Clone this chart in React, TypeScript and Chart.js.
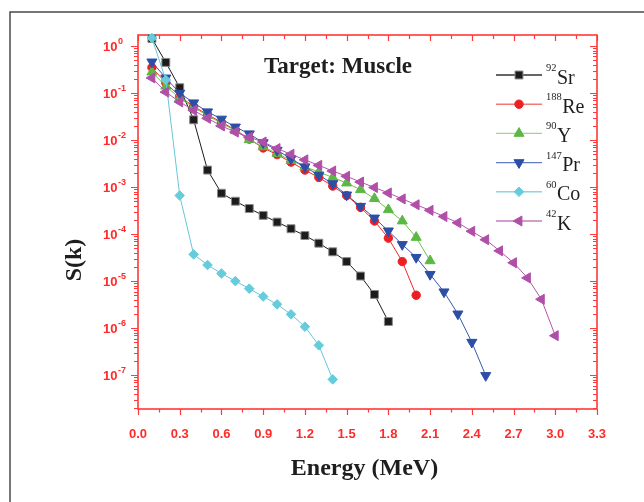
import React, { useEffect, useRef } from 'react';
import { Chart, registerables } from 'chart.js';

Chart.register(...registerables);

// Energy grid (MeV)
const energy = [0.1, 0.2, 0.3, 0.4, 0.5, 0.6, 0.7, 0.8, 0.9, 1.0, 1.1, 1.2, 1.3, 1.4, 1.5, 1.6, 1.7, 1.8, 1.9, 2.0, 2.1, 2.2, 2.3, 2.4, 2.5, 2.6, 2.7, 2.8, 2.9, 3.0];

// S(k) values
const sr92 = [1.45, 0.45, 0.13, 0.027, 2.3e-3, 7.4e-4, 5.0e-4, 3.5e-4, 2.5e-4, 1.8e-4, 1.3e-4, 9.3e-5, 6.4e-5, 4.2e-5, 2.6e-5, 1.28e-5, 5.2e-6, 1.38e-6];
const re188 = [0.35, 0.165, 0.085, 0.052, 0.035, 0.024, 0.0165, 0.0105, 0.0068, 0.0049, 0.0034, 0.0023, 0.0016, 1.05e-3, 6.6e-4, 3.7e-4, 1.9e-4, 8.2e-5, 2.6e-5, 5.0e-6];
const y90 = [0.28, 0.14, 0.078, 0.05, 0.033, 0.023, 0.0158, 0.0102, 0.0072, 0.0052, 0.0037, 0.0027, 0.0021, 1.6e-3, 1.22e-3, 8.8e-4, 5.7e-4, 3.3e-4, 1.9e-4, 8.5e-5, 2.7e-5];
const pr147 = [0.46, 0.21, 0.10, 0.062, 0.040, 0.028, 0.019, 0.0136, 0.0088, 0.0061, 0.0040, 0.0027, 0.0018, 1.18e-3, 6.8e-4, 3.9e-4, 2.2e-4, 1.17e-4, 6.0e-5, 3.2e-5, 1.39e-5, 5.9e-6, 2.0e-6, 5.0e-7, 9.8e-8];
const co60 = [1.48, 0.19, 6.6e-4, 3.7e-5, 2.2e-5, 1.45e-5, 1.0e-5, 6.9e-6, 4.7e-6, 3.2e-6, 1.96e-6, 1.07e-6, 4.3e-7, 8.1e-8];
const k42 = [0.21, 0.105, 0.065, 0.043, 0.029, 0.020, 0.0148, 0.0115, 0.0091, 0.0066, 0.0050, 0.0038, 0.0029, 2.2e-3, 1.7e-3, 1.28e-3, 9.8e-4, 7.5e-4, 5.6e-4, 4.2e-4, 3.2e-4, 2.36e-4, 1.74e-4, 1.15e-4, 7.6e-5, 4.4e-5, 2.46e-5, 1.17e-5, 4.1e-6, 6.9e-7];

const massNumbers = ['92', '188', '90', '147', '60', '42'];
const elements = ['Sr', 'Re', 'Y', 'Pr', 'Co', 'K'];

// Axis tick labels
const xTickValues = [0, 0.3, 0.6, 0.9, 1.2, 1.5, 1.8, 2.1, 2.4, 2.7, 3.0, 3.3];
const xTickLabels = ['0.0', '0.3', '0.6', '0.9', '1.2', '1.5', '1.8', '2.1', '2.4', '2.7', '3.0', '3.3'];
const yTickExponents = [0, -1, -2, -3, -4, -5, -6, -7];

const titleText = 'Target: Muscle';
const xTitle = 'Energy (MeV)';
const yTitle = 'S(k)';

const AXIS_RED = '#ff3838';
const LABEL_RED = '#ff2a2a';

type Style = {
  values: number[];
  fill: string;
  edge: string;
  line: string;
  legendLine: string;
  shape: 'rect' | 'circle' | 'triangle' | 'rectRot';
  rot: number;
  r: number;
};

const styles: Style[] = [
  { values: sr92, fill: '#1c1c1c', edge: '#8a8a8a', line: '#1c1c1c', legendLine: '#333333', shape: 'rect', rot: 0, r: 5.6 },
  { values: re188, fill: '#ee1f24', edge: '#ee1f24', line: '#ee2a2a', legendLine: '#f07a7a', shape: 'circle', rot: 0, r: 4.2 },
  { values: y90, fill: '#5cb845', edge: '#5cb845', line: '#6fc050', legendLine: '#9ed68a', shape: 'triangle', rot: 0, r: 5.8 },
  { values: pr147, fill: '#2d4ea6', edge: '#2d4ea6', line: '#3558b0', legendLine: '#5f7cc4', shape: 'triangle', rot: 180, r: 5.8 },
  { values: co60, fill: '#66ccdc', edge: '#66ccdc', line: '#66c6da', legendLine: '#8ad6e4', shape: 'rectRot', rot: 0, r: 4.8 },
  { values: k42, fill: '#b04fa8', edge: '#b04fa8', line: '#b455aa', legendLine: '#c57dbe', shape: 'triangle', rot: 270, r: 5.8 },
];

function drawMarker(ctx: CanvasRenderingContext2D, s: Style, x: number, y: number) {
  const r = s.r;
  const rad = (s.rot * Math.PI) / 180;
  ctx.beginPath();
  if (s.shape === 'rect') {
    const h = Math.SQRT1_2 * r;
    ctx.rect(x - h, y - h, 2 * h, 2 * h);
  } else if (s.shape === 'circle') {
    ctx.arc(x, y, r, 0, Math.PI * 2);
  } else if (s.shape === 'triangle') {
    let a = rad;
    ctx.moveTo(x + Math.sin(a) * r, y - Math.cos(a) * r);
    a += (2 * Math.PI) / 3;
    ctx.lineTo(x + Math.sin(a) * r, y - Math.cos(a) * r);
    a += (2 * Math.PI) / 3;
    ctx.lineTo(x + Math.sin(a) * r, y - Math.cos(a) * r);
    ctx.closePath();
  } else {
    ctx.moveTo(x - r, y);
    ctx.lineTo(x, y - r);
    ctx.lineTo(x + r, y);
    ctx.lineTo(x, y + r);
    ctx.closePath();
  }
  ctx.fillStyle = s.fill;
  ctx.fill();
  ctx.lineWidth = 1;
  ctx.strokeStyle = s.edge;
  ctx.stroke();
}

const framePlugin = {
  id: 'originFrame',
  beforeDatasetsDraw(chart: any) {
    const ctx: CanvasRenderingContext2D = chart.ctx;
    const { left, right, top, bottom } = chart.chartArea;
    const xs = chart.scales.x;
    const ys = chart.scales.y;
    ctx.save();
    // outer gray frame (left & top)
    ctx.strokeStyle = '#4a4a4a';
    ctx.lineWidth = 1.5;
    ctx.beginPath();
    ctx.moveTo(10, 502);
    ctx.lineTo(10, 12);
    ctx.lineTo(644, 12);
    ctx.stroke();

    ctx.strokeStyle = AXIS_RED;
    ctx.lineWidth = 1.6;
    ctx.strokeRect(left, top, right - left, bottom - top);

    ctx.lineWidth = 1.2;
    ctx.beginPath();
    // x ticks every 0.15
    for (let i = 0; i <= 22; i++) {
      const v = i * 0.15;
      const px = Math.round(xs.getPixelForValue(v)) + 0.5;
      const major = i % 2 === 0;
      const lb = major ? 6 : 3.5;
      const lt = major ? 6 : 4;
      ctx.moveTo(px, bottom);
      ctx.lineTo(px, bottom + lb);
      ctx.moveTo(px, top);
      ctx.lineTo(px, top + lt);
    }
    // y ticks (log)
    const minV = ys.min;
    const maxV = ys.max;
    for (let e = -9; e <= 1; e++) {
      for (let m = 1; m <= 9; m++) {
        const v = m * Math.pow(10, e);
        if (v < minV || v > maxV) continue;
        const py = Math.round(ys.getPixelForValue(v)) + 0.5;
        const len = m === 1 ? 7 : 4;
        ctx.moveTo(left, py);
        ctx.lineTo(left - len, py);
        ctx.moveTo(right, py);
        ctx.lineTo(right - len, py);
      }
    }
    ctx.stroke();
    ctx.restore();
  },
  afterDraw(chart: any) {
    const ctx: CanvasRenderingContext2D = chart.ctx;
    const ys = chart.scales.y;
    const xs = chart.scales.x;
    ctx.save();
    // y tick labels 10^n
    ctx.fillStyle = LABEL_RED;
    ctx.textBaseline = 'middle';
    ctx.textAlign = 'left';
    for (const e of yTickExponents) {
      const py = ys.getPixelForValue(Math.pow(10, e));
      ctx.font = 'bold 13px "Liberation Sans", Arial, sans-serif';
      const base = '10';
      ctx.fillText(base, 103, py + 1);
      const w = ctx.measureText(base).width;
      ctx.font = 'bold 9px "Liberation Sans", Arial, sans-serif';
      ctx.fillText(e === 0 ? '0' : '-' + Math.abs(e), 103 + w + 0.5, py - 5);
    }

    // plot title
    ctx.fillStyle = '#1e1e1e';
    ctx.textAlign = 'center';
    ctx.textBaseline = 'alphabetic';
    ctx.font = 'bold 23px "Liberation Serif", "Times New Roman", serif';
    ctx.fillText(titleText, 338, 73);

    // x axis title
    ctx.font = 'bold 24px "Liberation Serif", "Times New Roman", serif';
    ctx.fillText(xTitle, (xs.left + xs.right) / 2 - 3, 475);

    // y axis title
    ctx.save();
    ctx.translate(75, 260);
    ctx.rotate(-Math.PI / 2);
    ctx.textBaseline = 'middle';
    ctx.fillText(yTitle, 0, 0);
    ctx.restore();

    // legend
    for (let i = 0; i < styles.length; i++) {
      const s = styles[i];
      const cy = 75 + i * 29.2;
      ctx.strokeStyle = s.legendLine;
      ctx.lineWidth = 1.4;
      ctx.beginPath();
      ctx.moveTo(496, cy);
      ctx.lineTo(542, cy);
      ctx.stroke();
      drawMarker(ctx, s, 519, cy);
      ctx.fillStyle = '#1e1e1e';
      ctx.textAlign = 'left';
      ctx.textBaseline = 'alphabetic';
      ctx.font = '10.5px "Liberation Serif", "Times New Roman", serif';
      ctx.fillText(massNumbers[i], 546, cy - 4);
      const mw = ctx.measureText(massNumbers[i]).width;
      ctx.font = '20px "Liberation Serif", "Times New Roman", serif';
      ctx.fillText(elements[i], 546 + mw + 0.5, cy + 8.5);
    }
    ctx.restore();
  },
};

export default function App() {
  const ref = useRef<HTMLCanvasElement | null>(null);
  useEffect(() => {
    if (!ref.current) return;
    const datasets = styles.map((s, i) => ({
      label: massNumbers[i] + elements[i],
      data: s.values.map((v, j) => ({ x: energy[j], y: v })),
      borderColor: s.line,
      backgroundColor: s.fill,
      pointBackgroundColor: s.fill,
      pointBorderColor: s.edge,
      pointStyle: s.shape,
      pointRotation: s.rot,
      pointRadius: s.r,
      pointBorderWidth: 1,
      borderWidth: 1,
      tension: 0,
      clip: false as any,
      order: styles.length - i,
    }));
    const chart = new Chart(ref.current, {
      type: 'line',
      data: { datasets },
      options: {
        animation: false,
        responsive: false,
        maintainAspectRatio: false,
        layout: { padding: { left: 138, right: 47, top: 35, bottom: 0 } },
        plugins: {
          legend: { display: false },
          tooltip: { enabled: false },
        },
        scales: {
          x: {
            type: 'linear',
            min: 0,
            max: 3.3,
            afterBuildTicks: (axis: any) => {
              axis.ticks = xTickValues.map((value) => ({ value }));
            },
            afterFit: (axis: any) => {
              axis.height = 93;
            },
            ticks: {
              autoSkip: false,
              maxRotation: 0,
              padding: 10,
              color: LABEL_RED,
              font: { family: '"Liberation Sans", Arial, sans-serif', size: 13, weight: 'bold' },
              callback: (_v: any, i: number) => xTickLabels[i],
            },
            grid: { display: false },
            border: { display: false },
          },
          y: {
            type: 'logarithmic',
            min: 1.9e-8,
            max: 1.72,
            display: false,
          },
        },
      },
      plugins: [framePlugin],
    } as any);
    return () => chart.destroy();
  }, []);
  return (
    <div style={{ position: 'fixed', left: 0, top: 0, width: 644, height: 502, background: '#fff' }}>
      <canvas ref={ref} width={644} height={502} style={{ width: 644, height: 502, display: 'block' }} />
    </div>
  );
}
